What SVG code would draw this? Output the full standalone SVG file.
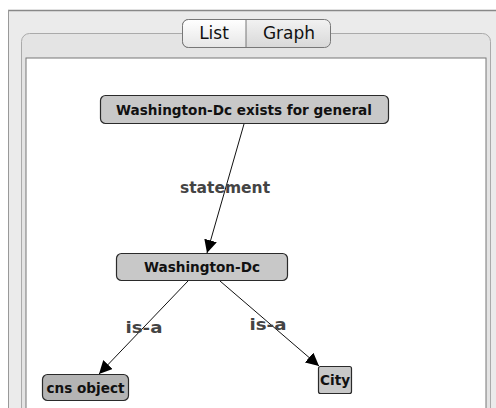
<svg xmlns="http://www.w3.org/2000/svg" width="496" height="408" viewBox="0 0 496 408">
<defs>
<style>
.node rect{fill:#c8c8c8;stroke:#2a2a2a;stroke-width:1.2}
.node text{font-family:"DejaVu Sans","Liberation Sans",sans-serif;font-weight:bold;font-size:13.6px;fill:#111;text-anchor:middle}
.edge{stroke:#111;stroke-width:1;fill:none}
.lbl{font-family:"DejaVu Sans","Liberation Sans",sans-serif;font-weight:bold;font-size:15.5px;fill:#444;text-anchor:middle}
.tab{font-family:"DejaVu Sans","Liberation Sans",sans-serif;font-size:17px;fill:#111;text-anchor:middle}
</style>
<marker id="arr" viewBox="0 0 10 10" refX="10" refY="5" markerWidth="13" markerHeight="13" markerUnits="userSpaceOnUse" orient="auto">
<path d="M0,0 L10,5 L0,10 z" fill="#000"/>
</marker>
<linearGradient id="listg" x1="0" y1="0" x2="0" y2="1"><stop offset="0" stop-color="#ffffff"/><stop offset="1" stop-color="#e6e6e6"/></linearGradient>
<linearGradient id="graphg" x1="0" y1="0" x2="0" y2="1"><stop offset="0" stop-color="#f2f2f2"/><stop offset="1" stop-color="#d8d8d8"/></linearGradient>
</defs>
<rect x="0" y="0" width="496" height="408" fill="#fff"/>
<rect x="8" y="10" width="488" height="398" fill="#ebebeb"/>
<line x1="8" y1="10.5" x2="496" y2="10.5" stroke="#888" stroke-width="1.5"/>
<line x1="8.5" y1="10" x2="8.5" y2="408" stroke="#999" stroke-width="1"/>
<rect x="21.5" y="33.5" width="469" height="390" rx="8" fill="#e4e4e4" stroke="#aaa"/>
<rect x="26" y="58" width="460" height="360" fill="#fff" stroke="#777" stroke-width="1"/>
<g id="tabs">
<rect x="182.5" y="19.5" width="148" height="28" rx="6" fill="url(#graphg)" stroke="#777"/>
<path d="M188.5,19.5 H246 V47.5 H188.5 A6,6 0 0 1 182.5,41.5 V25.5 A6,6 0 0 1 188.5,19.5 z" fill="url(#listg)" stroke="#777"/>
<text class="tab" x="214" y="39">List</text>
<text class="tab" x="289" y="39">Graph</text>
</g>
<g id="connectors">
<line class="edge" x1="244" y1="124" x2="207" y2="253" marker-end="url(#arr)"/>
<line class="edge" x1="188" y1="281" x2="99" y2="374" marker-end="url(#arr)"/>
<line class="edge" x1="220" y1="281" x2="319" y2="366" marker-end="url(#arr)"/>
<text class="lbl" x="225" y="193">statement</text>
<text class="lbl" x="144" y="333" textLength="37" lengthAdjust="spacingAndGlyphs">is-a</text>
<text class="lbl" x="268" y="330" textLength="37" lengthAdjust="spacingAndGlyphs">is-a</text>
</g>
<g id="n1" class="node">
<rect x="100.5" y="95.5" width="288" height="28" rx="5"/>
<text x="244" y="115">Washington-Dc exists for general</text>
</g>
<g id="n2" class="node">
<rect x="116.5" y="253.5" width="171" height="27" rx="5"/>
<text x="202" y="272">Washington-Dc</text>
</g>
<g id="n3" class="node">
<rect x="42.5" y="374.5" width="86" height="26" rx="5" style="fill:#b4b4b4"/>
<text x="85.5" y="393">cns object</text>
</g>
<g id="n4" class="node">
<rect x="318.5" y="366.5" width="33" height="27" rx="2"/>
<text x="335" y="385">City</text>
</g>
</svg>
